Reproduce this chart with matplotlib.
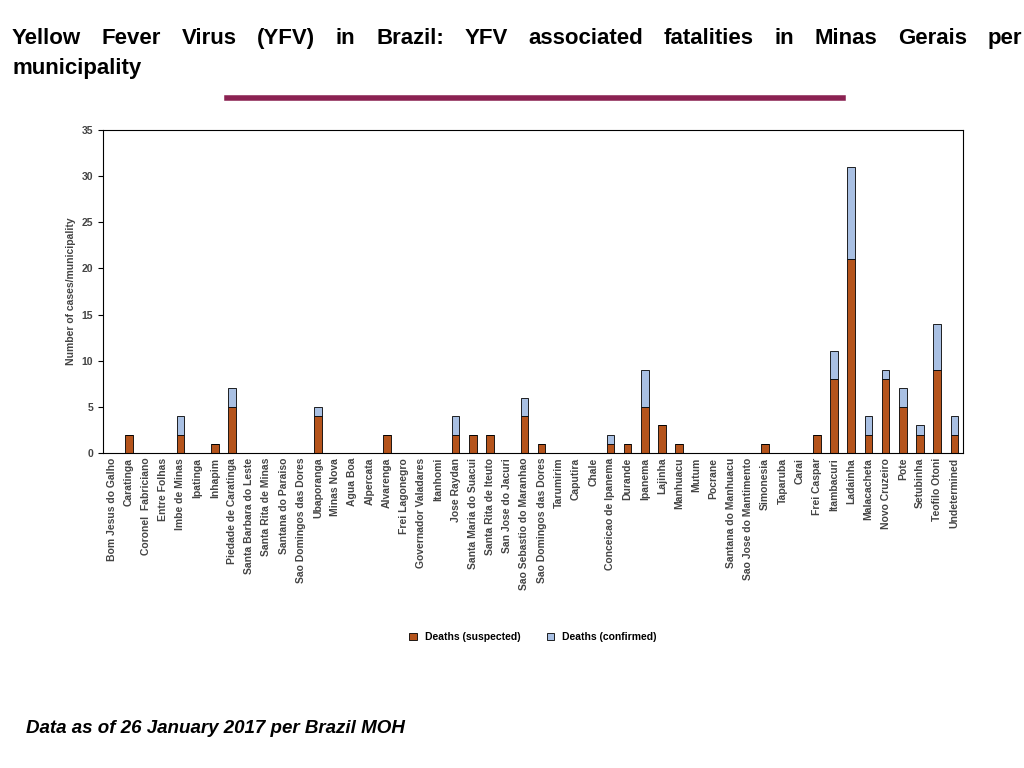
import matplotlib.pyplot as plt
import numpy as np

plt.rcParams['font.family'] = ['Liberation Sans', 'DejaVu Sans']

municipalities = [
    'Bom Jesus do Galho', 'Caratinga', 'Coronel  Fabriciano', 'Entre Folhas', 'Imbe de Minas',
    'Ipatinga', 'Inhapim', 'Piedade de Caratinga', 'Santa Barbara do Leste', 'Santa Rita de Minas',
    'Santana do Paraiso', 'Sao Domingos das Dores', 'Ubaporanga', 'Minas Nova', 'Agua Boa',
    'Alpercata', 'Alvarenga', 'Frei Lagonegro', 'Governador Valadares', 'Itanhomi',
    'Jose Raydan', 'Santa Maria do Suacui', 'Santa Rita de Iteuto', 'San Jose do Jacuri',
    'Sao Sebastio do Maranhao', 'Sao Domingos das Dores', 'Tarumirim', 'Caputira', 'Chale',
    'Conceicao de Ipanema', 'Durande', 'Ipanema', 'Lajinha', 'Manhuacu', 'Mutum', 'Pocrane',
    'Santana do Manhuacu', 'Sao Jose do Mantimento', 'Simonesia', 'Taparuba', 'Carai',
    'Frei Caspar', 'Itambacuri', 'Ladainha', 'Malacacheta', 'Novo Cruzeiro', 'Pote',
    'Setubinha', 'Teofilo Otoni', 'Undetermined',
]
suspected = [0, 2, 0, 0, 2, 0, 1, 5, 0, 0, 0, 0, 4, 0, 0, 0, 2, 0, 0, 0,
             2, 2, 2, 0, 4, 1, 0, 0, 0, 1, 1, 5, 3, 1, 0, 0, 0, 0, 1, 0,
             0, 2, 8, 21, 2, 8, 5, 2, 9, 2]
confirmed = [0, 0, 0, 0, 2, 0, 0, 2, 0, 0, 0, 0, 1, 0, 0, 0, 0, 0, 0, 0,
             2, 0, 0, 0, 2, 0, 0, 0, 0, 1, 0, 4, 0, 0, 0, 0, 0, 0, 0, 0,
             0, 0, 3, 10, 2, 1, 2, 1, 5, 2]

fig = plt.figure(figsize=(10.24, 7.68), dpi=100)
ax = fig.add_axes([103/1024, 1-453/768, 860/1024, 323/768])
x = np.arange(len(municipalities))
ax.bar(x, suspected, width=0.45, color='#b5541c', edgecolor='black', linewidth=0.6,
       label='Deaths (suspected)')
ax.bar(x, confirmed, width=0.45, bottom=suspected, color='#a9c0e3', edgecolor='black',
       linewidth=0.6, label='Deaths (confirmed)')
ax.set_xlim(-0.5, len(municipalities) - 0.5)
ax.set_ylim(0, 35)
ax.set_yticks(range(0, 36, 5))
ax.set_xticks(x)
ax.set_xticklabels(municipalities, rotation=90, fontsize=7.5, fontweight='bold', color='#444444')
ax.tick_params(axis='y', labelsize=7.5, labelcolor='#444444')
ax.tick_params(axis='x', length=0)
for lbl in ax.get_yticklabels():
    lbl.set_fontweight('bold')
ax.set_ylabel('Number of cases/municipality', fontsize=7.5, fontweight='bold', color='#444444')
ax.legend(loc='upper center', bbox_to_anchor=(0.5, -0.525), ncol=2, frameon=False,
          prop={'weight': 'bold', 'size': 7.5}, handlelength=0.7, columnspacing=2.5)

# justified first title line
words = 'Yellow Fever Virus (YFV) in Brazil: YFV associated fatalities in Minas Gerais per'.split()
renderer = fig.canvas.get_renderer()
texts = [fig.text(0, 0.95, w, fontsize=16, fontweight='bold', va='center') for w in words]
widths = [t.get_window_extent(renderer).width for t in texts]
left, right = 12, 1022
gap = (right - left - sum(widths)) / (len(words) - 1)
pos = left
for t, w in zip(texts, widths):
    t.set_x(pos / 1024)
    pos += w + gap
fig.text(12/1024, 0.911, 'municipality', fontsize=16, fontweight='bold', va='center')
fig.add_artist(plt.Line2D([227/1024, 843/1024], [1-98/768, 1-98/768], color='#8b2252', linewidth=4))
fig.text(0.025, 0.052, 'Data as of 26 January 2017 per Brazil MOH', fontsize=13.5,
         fontweight='bold', style='italic', va='center')

fig.savefig('out.png')
